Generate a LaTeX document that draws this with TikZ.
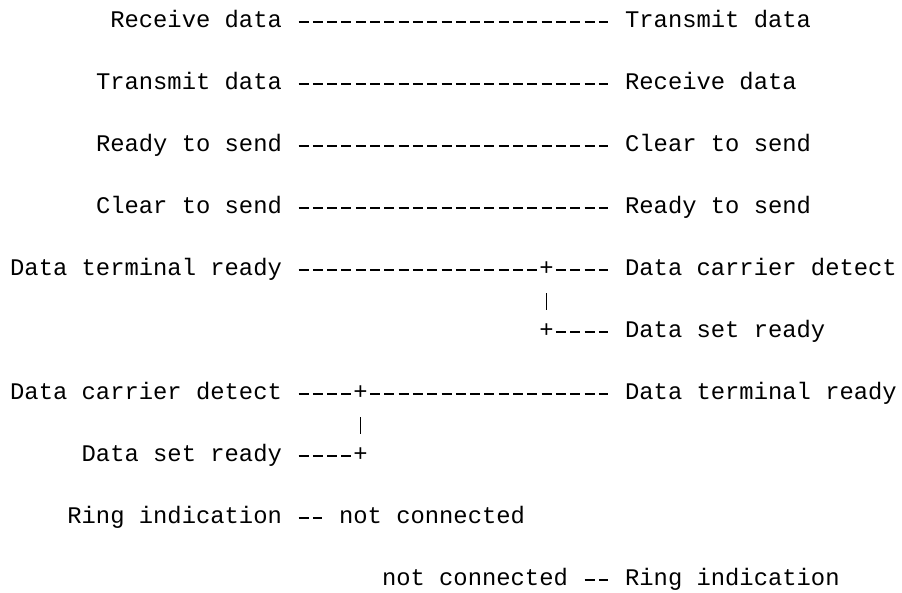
\documentclass[tikz,border=0pt]{standalone}
\usepackage{fontspec}
\newfontfamily\mono{Liberation Mono}

\def\ox{10}     % left edge of column 0
\def\oy{27.8}   % baseline of row 0
\def\cw{14.3}   % character width
\def\lh{31}     % line height

\tikzset{
    lbl/.style={font={\mono\fontsize{23.83}{31}\selectfont}, anchor=base west,
        inner xsep=14.3pt, inner ysep=0pt, text height=12pt, text depth=0pt,
        xshift=-14.3pt},
    jn/.style={font={\mono\fontsize{23.83}{31}\selectfont}, anchor=base west,
        inner sep=0pt, text height=12pt, text depth=0pt},
    wire/.style={line width=1.4pt, dash pattern=on 10pt off 4.3pt,
        shorten <=2.15pt, shorten >=2.15pt},
    bar/.style={line width=1.3pt, shorten <=23.5pt, shorten >=21.8pt}
}

\begin{document}
\begin{tikzpicture}[x=1pt, y=-1pt]

    %% Null modem wiring

    \useasboundingbox (0, 0) rectangle (902, 592);

    % Receive / transmit
    \node[lbl] (rd1) at ({\ox+7*\cw}, {\oy+0*\lh}) {Receive data};
    \node[lbl] (td1) at ({\ox+43*\cw}, {\oy+0*\lh}) {Transmit data};
    \draw[wire] (rd1) -- (td1);

    \node[lbl] (td2) at ({\ox+6*\cw}, {\oy+2*\lh}) {Transmit data};
    \node[lbl] (rd2) at ({\ox+43*\cw}, {\oy+2*\lh}) {Receive data};
    \draw[wire] (td2) -- (rd2);

    % Handshake
    \node[lbl] (rts1) at ({\ox+6*\cw}, {\oy+4*\lh}) {Ready to send};
    \node[lbl] (cts1) at ({\ox+43*\cw}, {\oy+4*\lh}) {Clear to send};
    \draw[wire] (rts1) -- (cts1);

    \node[lbl] (cts2) at ({\ox+6*\cw}, {\oy+6*\lh}) {Clear to send};
    \node[lbl] (rts2) at ({\ox+43*\cw}, {\oy+6*\lh}) {Ready to send};
    \draw[wire] (cts2) -- (rts2);

    % DTR to DCD and DSR
    \node[lbl] (dtr1) at ({\ox+0*\cw}, {\oy+8*\lh}) {Data terminal ready};
    \node[jn] (ja) at ({\ox+37*\cw}, {\oy+8*\lh}) {+};
    \node[lbl] (dcd1) at ({\ox+43*\cw}, {\oy+8*\lh}) {Data carrier detect};
    \node[jn] (jb) at ({\ox+37*\cw}, {\oy+10*\lh}) {+};
    \node[lbl] (dsr1) at ({\ox+43*\cw}, {\oy+10*\lh}) {Data set ready};
    \draw[wire] (dtr1) -- (ja);
    \draw[wire] (ja) -- (dcd1);
    \draw[bar] (ja.center) -- (jb.center);
    \draw[wire] (jb) -- (dsr1);

    % DCD and DSR to DTR
    \node[lbl] (dcd2) at ({\ox+0*\cw}, {\oy+12*\lh}) {Data carrier detect};
    \node[jn] (jc) at ({\ox+24*\cw}, {\oy+12*\lh}) {+};
    \node[lbl] (dtr2) at ({\ox+43*\cw}, {\oy+12*\lh}) {Data terminal ready};
    \node[lbl] (dsr2) at ({\ox+5*\cw}, {\oy+14*\lh}) {Data set ready};
    \node[jn] (jd) at ({\ox+24*\cw}, {\oy+14*\lh}) {+};
    \draw[wire] (dcd2) -- (jc);
    \draw[wire] (jc) -- (dtr2);
    \draw[bar] (jc.center) -- (jd.center);
    \draw[wire] (dsr2) -- (jd);

    % Ring indication
    \node[lbl] (ri1) at ({\ox+4*\cw}, {\oy+16*\lh}) {Ring indication};
    \node[lbl] (nc1) at ({\ox+23*\cw}, {\oy+16*\lh}) {not connected};
    \draw[wire] (ri1) -- (nc1);

    \node[lbl] (nc2) at ({\ox+26*\cw}, {\oy+18*\lh}) {not connected};
    \node[lbl] (ri2) at ({\ox+43*\cw}, {\oy+18*\lh}) {Ring indication};
    \draw[wire] (nc2) -- (ri2);

\end{tikzpicture}
\end{document}
